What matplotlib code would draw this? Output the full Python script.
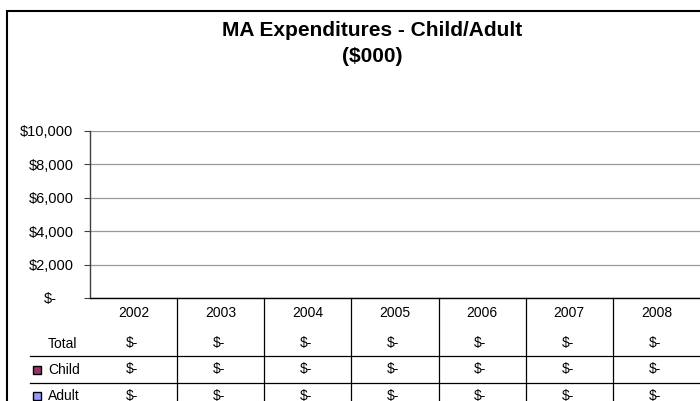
import matplotlib
matplotlib.use("Agg")
import matplotlib.pyplot as plt
from matplotlib.patches import Rectangle
from matplotlib.ticker import FuncFormatter
import matplotlib.transforms as mtransforms

plt.rcParams['font.family'] = ['Liberation Sans', 'DejaVu Sans']

# Data (all values are zero -> shown as "$-")
years = ["2002", "2003", "2004", "2005", "2006", "2007", "2008"]
child = [0, 0, 0, 0, 0, 0, 0]
adult = [0, 0, 0, 0, 0, 0, 0]
total = [c + a for c, a in zip(child, adult)]
y_ticks = [0, 2000, 4000, 6000, 8000, 10000]

child_color = "#993366"
adult_color = "#9999FF"

W, H = 700, 401
fig = plt.figure(figsize=(W / 100, H / 100), dpi=100)

# chart area border (runs off the right and bottom edges)
fig.patches.append(Rectangle((7 / W, -0.1), 1.2, 1 - 11 / H + 0.1,
                             transform=fig.transFigure, fill=False,
                             edgecolor="black", linewidth=1.5))

fig.text(372 / W, 1 - 30 / H, "MA Expenditures - Child/Adult",
         ha="center", va="center", fontsize=15, fontweight="bold")
fig.text(372 / W, 1 - 57 / H, "($000)",
         ha="center", va="center", fontsize=15, fontweight="bold")

ax_l, ax_r, ax_t, ax_b = 90, 700, 131, 298
ax = fig.add_axes([ax_l / W, 1 - ax_b / H, (ax_r - ax_l) / W, (ax_b - ax_t) / H])

x = list(range(len(years)))
ax.bar(x, child, width=0.5, color=child_color, edgecolor="black", linewidth=0.6)
ax.bar(x, adult, width=0.5, bottom=child, color=adult_color,
       edgecolor="black", linewidth=0.6)

ax.set_xlim(-0.5, len(years) - 0.5)
ax.set_ylim(0, 10000)
ax.set_yticks(y_ticks)
ax.yaxis.set_major_formatter(FuncFormatter(
    lambda v, p: "$-" if v == 0 else "${:,.0f}".format(v)))
ax.tick_params(axis="y", length=4, width=0.8, color="#404040",
               labelsize=10.5, pad=8)
ax.set_xticks([])
ax.grid(axis="y", color="#999999", linewidth=0.9)
ax.set_axisbelow(True)
for s in ["top", "right"]:
    ax.spines[s].set_visible(False)
ax.spines["left"].set_color("#404040")
ax.spines["bottom"].set_color("black")
ax.spines["left"].set_linewidth(1.0)
ax.spines["bottom"].set_linewidth(1.0)

# "$-" at the baseline sits left of the other labels (accounting format)
for lbl in ax.get_yticklabels():
    if lbl.get_text() == "$-":
        lbl.set_transform(lbl.get_transform() +
                          mtransforms.ScaledTranslation(-17 / 100, 0, fig.dpi_scale_trans))

# data table below the plot
def ay(py):
    return (ax_b - py) / (ax_b - ax_t)

trans = mtransforms.blended_transform_factory(ax.transData, ax.transAxes)
fs = 10
for i, yr in enumerate(years):
    ax.text(i, ay(313), yr, transform=trans, ha="center", va="center",
            fontsize=fs, clip_on=False)
    for vals, py in [(total, 343), (child, 369), (adult, 396)]:
        txt = "$-" if vals[i] == 0 else "${:,.0f}".format(vals[i])
        ax.text(i - 0.02, ay(py), txt, transform=trans, ha="center",
                va="center", fontsize=fs, clip_on=False)

# column separators
for i in range(len(years) - 1):
    ax.plot([i + 0.5, i + 0.5], [0, ay(410)], transform=trans, color="black",
            linewidth=0.9, clip_on=False)

# row separators (from left of row labels to right edge)
for py in [356, 383]:
    fig.add_artist(plt.Line2D([30 / W, 1.0], [1 - py / H, 1 - py / H],
                              transform=fig.transFigure, color="black",
                              linewidth=0.9))

# row labels with legend keys
fig.text(48 / W, 1 - 344 / H, "Total", ha="left", va="center", fontsize=fs)
for name, color, py in [("Child", child_color, 370), ("Adult", adult_color, 396)]:
    fig.patches.append(Rectangle((33 / W, 1 - (py + 4) / H), 8 / W, 8 / H,
                                 transform=fig.transFigure, facecolor=color,
                                 edgecolor="black", linewidth=1.0))
    fig.text(48 / W, 1 - py / H, name, ha="left", va="center", fontsize=fs)

fig.savefig("out.png", dpi=100)
